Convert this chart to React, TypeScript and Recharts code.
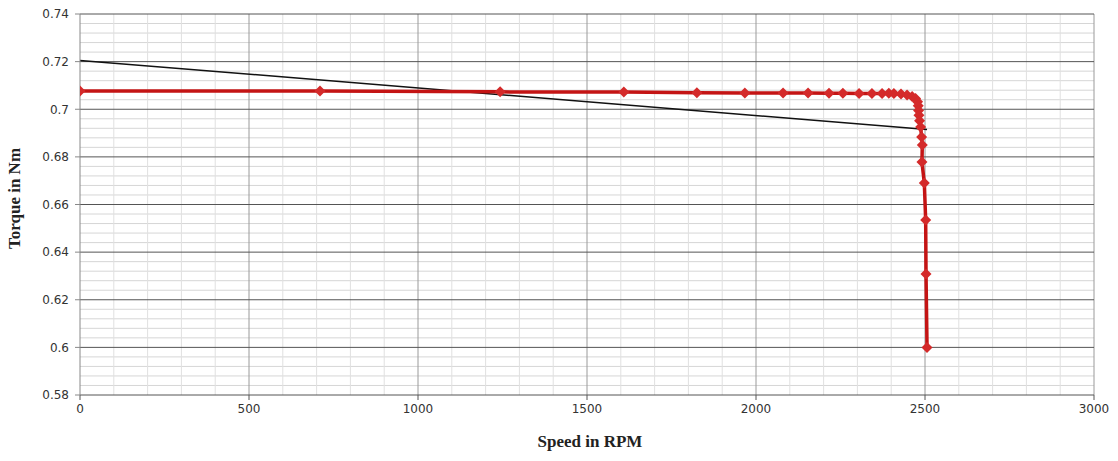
import React from 'react';
import { LineChart, Line, XAxis, YAxis, ReferenceLine, Label } from 'recharts';

// speed (rpm) vs torque (Nm)
const measuredSpeed = [
    0, 710, 1243, 1609, 1825, 1967, 2080, 2154, 2216, 2257, 2305, 2343, 2373, 2393, 2408,
    2429, 2447, 2462, 2472, 2478, 2480, 2481, 2482, 2484, 2487, 2490, 2492, 2491, 2498,
    2502, 2503, 2506,
];
const measuredTorque = [
    0.7077, 0.7077, 0.7073, 0.7072, 0.7069, 0.7068, 0.7068, 0.7068, 0.7067, 0.7067, 0.7066,
    0.7066, 0.7066, 0.7067, 0.7066, 0.7064, 0.706, 0.7054, 0.7045, 0.7032, 0.7015, 0.6995,
    0.6975, 0.6952, 0.6925, 0.6883, 0.685, 0.6778, 0.669, 0.6535, 0.6308, 0.6,
];
const fitSpeed = [0, 2506];
const fitTorque = [0.7205, 0.6915];

const xTicks = [0, 500, 1000, 1500, 2000, 2500, 3000];
const yTicks = [0.58, 0.6, 0.62, 0.64, 0.66, 0.68, 0.7, 0.72, 0.74];

const measured = measuredSpeed.map((s, i) => ({ speed: s, torque: measuredTorque[i] }));
const fit = fitSpeed.map((s, i) => ({ speed: s, torque: fitTorque[i] }));

// minor grid positions
const minorX: number[] = [];
for (let v = 100; v < 3000; v += 100) if (v % 500 !== 0) minorX.push(v);
const minorY: number[] = [];
for (let i = 1; i < 40; i++) if (i % 5 !== 0) minorY.push(+(0.58 + i * 0.004).toFixed(3));

const Diamond = (props: any) => {
    const { cx, cy } = props;
    if (cx == null || cy == null) return null;
    const r = 5.5;
    return (
        <path
            d={`M${cx},${cy - r} L${cx + r},${cy} L${cx},${cy + r} L${cx - r},${cy} Z`}
            fill="#d42a2a"
            stroke="none"
        />
    );
};

const tickStyle = { fontFamily: 'DejaVu Sans', fontSize: 12, fill: '#333' };

export default function App() {
    return (
        <div style={{ position: 'absolute', left: 0, top: 0, background: '#fff' }}>
            <LineChart width={1118} height={461} margin={{ top: 14, right: 24, bottom: 26, left: 10 }}>
                <XAxis
                    dataKey="speed"
                    type="number"
                    domain={[0, 3000]}
                    ticks={xTicks}
                    allowDataOverflow
                    stroke="#555"
                    tickSize={5}
                    tickMargin={4}
                    tick={tickStyle}
                    height={40}
                >
                    <Label
                        value="Speed in RPM"
                        position="insideBottom"
                        offset={-12}
                        dx={3}
                        style={{ fontFamily: 'Liberation Serif', fontWeight: 'bold', fontSize: 17, fill: '#222' }}
                    />
                </XAxis>
                <YAxis
                    type="number"
                    domain={[0.58, 0.74]}
                    ticks={yTicks}
                    allowDataOverflow
                    stroke="#888"
                    tickSize={5}
                    tickMargin={6}
                    tick={tickStyle}
                    tickFormatter={(v: number) => String(+v.toFixed(2))}
                    width={70}
                >
                    <Label
                        value="Torque in Nm"
                        angle={-90}
                        position="insideLeft"
                        offset={4}
                        dy={-6}
                        style={{ fontFamily: 'Liberation Serif', fontWeight: 'bold', fontSize: 17, fill: '#222', textAnchor: 'middle' }}
                    />
                </YAxis>

                {minorY.map((v) => (
                    <ReferenceLine key={`my-${v}`} y={v} stroke="#d6d6d6" strokeWidth={1} />
                ))}
                {minorX.map((v) => (
                    <ReferenceLine key={`mx-${v}`} x={v} stroke="#e0e0e0" strokeWidth={1} />
                ))}
                {xTicks.slice(1).map((v) => (
                    <ReferenceLine key={`x-${v}`} x={v} stroke="#9a9a9a" strokeWidth={1} />
                ))}
                {yTicks.slice(1).map((v) => (
                    <ReferenceLine key={`y-${v}`} y={v} stroke="#555" strokeWidth={1} />
                ))}

                <Line
                    data={fit}
                    dataKey="torque"
                    type="linear"
                    stroke="#111"
                    strokeWidth={1.5}
                    dot={false}
                    isAnimationActive={false}
                />
                <Line
                    data={measured}
                    dataKey="torque"
                    type="linear"
                    stroke="#c41414"
                    strokeWidth={3.5}
                    dot={<Diamond />}
                    activeDot={false}
                    isAnimationActive={false}
                />
            </LineChart>
        </div>
    );
}
